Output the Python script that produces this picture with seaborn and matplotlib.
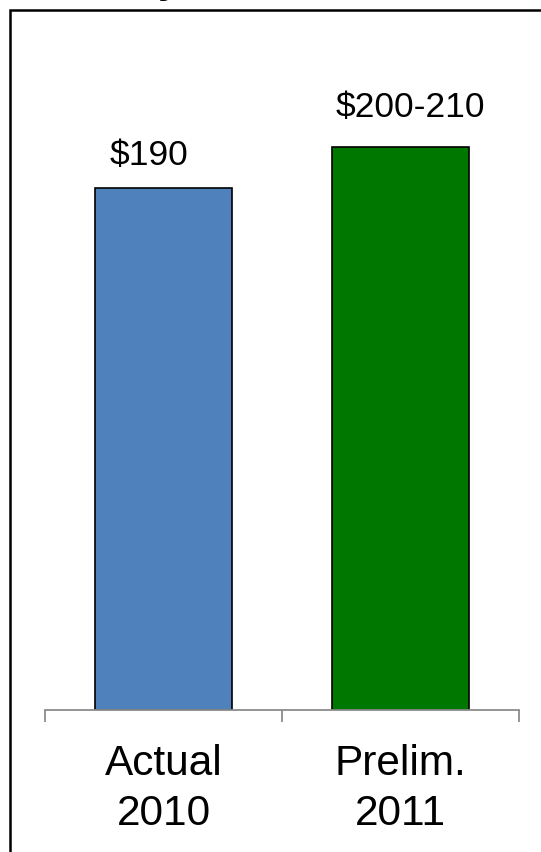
import matplotlib
matplotlib.use("Agg")
import matplotlib.pyplot as plt
from matplotlib.patches import Rectangle
import seaborn as sns
import pandas as pd

# Data
categories = ["Actual\n2010", "Prelim.\n2011"]
values = [190, 205]
value_labels = ["$190", "$200-210"]
bar_colors = ["#4F81BD", "#007800"]

sns.set_theme(style="white")
plt.rcParams["font.family"] = ["Liberation Sans", "DejaVu Sans"]

W, H, DPI = 541, 852, 100
fig = plt.figure(figsize=(W / DPI, H / DPI), dpi=DPI)
ax = fig.add_axes([45 / W, 1 - 710 / H, (519 - 45) / W, 686.8 / H])

df = pd.DataFrame({"category": categories, "value": values})
sns.barplot(data=df, x="category", y="value", hue="category",
            palette=bar_colors, saturation=1, width=0.575,
            edgecolor="black", linewidth=1.2, legend=False, ax=ax,
            zorder=2)

ax.set_xlim(-0.5, 1.5)
ax.set_ylim(0, 250)
ax.set_xlabel("")
ax.set_ylabel("")
ax.set_yticks([])

for s in ["top", "right", "left"]:
    ax.spines[s].set_visible(False)
ax.spines["bottom"].set_color("#8c8c8c")
ax.spines["bottom"].set_linewidth(1.3)
ax.spines["bottom"].set_zorder(3)

# category labels without marks, separators as minor ticks
ax.set_xticks(range(len(categories)))
ax.set_xticklabels(categories, fontsize=30.5, linespacing=1.32)
ax.tick_params(axis="x", which="major", length=0, pad=24.5, colors="black")
ax.set_xticks([-0.5, 0.5, 1.5], minor=True)
ax.tick_params(axis="x", which="minor", bottom=True, length=8.6, width=1.3,
               color="#8c8c8c", direction="out")

# value labels above bars
offsets = [(-10.8, 16.6), (7.2, 21.6)]
for i, (v, lab) in enumerate(zip(values, value_labels)):
    ax.annotate(lab, xy=(i, v), xytext=offsets[i], textcoords="offset points",
                ha="center", va="baseline", fontsize=25.5, color="black")

# frame around the panel
fig.patches.append(Rectangle((10 / W, -0.5), 2.0, 1.5 - 10 / H,
                             transform=fig.transFigure, fill=False,
                             edgecolor="black", linewidth=1.8,
                             clip_on=False))
fig.text(158 / W, 1 + 8 / H, "y", fontsize=30, fontweight="bold",
         ha="left", va="baseline", color="black")

fig.savefig("out.png", dpi=DPI)
